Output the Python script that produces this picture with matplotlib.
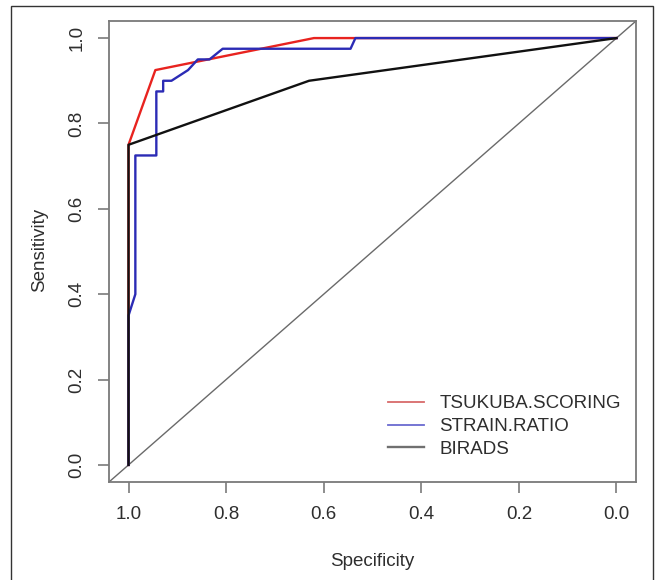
import numpy as np
import matplotlib
matplotlib.use("Agg")
import matplotlib.pyplot as plt
from matplotlib.lines import Line2D
from matplotlib.patches import Rectangle

# =========================
# DATA
# =========================
TSUKUBA_SPEC = [1.0, 1.0, 0.945, 0.62, 0.0]
TSUKUBA_SENS = [0.0, 0.75, 0.925, 1.0, 1.0]

STRAIN_SPEC = [1.0, 1.0, 0.986, 0.986, 0.943, 0.943, 0.929, 0.929, 0.912,
               0.878, 0.858, 0.834, 0.807, 0.545, 0.535, 0.0]
STRAIN_SENS = [0.0, 0.35, 0.40, 0.725, 0.725, 0.875, 0.875, 0.90, 0.90,
               0.925, 0.95, 0.95, 0.975, 0.975, 1.0, 1.0]

BIRADS_SPEC = [1.0, 1.0, 0.63, 0.0]
BIRADS_SENS = [0.0, 0.75, 0.90, 1.0]

LEGEND_LABELS = ["TSUKUBA.SCORING", "STRAIN.RATIO", "BIRADS"]
TICKS = [0.0, 0.2, 0.4, 0.6, 0.8, 1.0]

# =========================
# STYLE
# =========================
FONT = "Liberation Sans"
TEXT_COLOR = "#2e2e2e"
FRAME_COLOR = "#7a7a7a"
CURVE_LW = 1.7
FONT_SIZE = 13.5

plt.rcParams["font.family"] = [FONT, "DejaVu Sans"]

fig = plt.figure(figsize=(6.57, 5.80), dpi=100)
ax = fig.add_axes([109 / 657, 1 - 482 / 580, (636 - 109) / 657, (482 - 21) / 580])

# outer border of the image
fig.patches.append(Rectangle((11 / 657, -0.01), (653 - 11) / 657, 1 - 6 / 580 + 0.01,
                             transform=fig.transFigure, fill=False,
                             edgecolor="#333333", linewidth=1.0))

# chance line
ax.axline((1.0, 0.0), (0.0, 1.0), color="#6a6a6a", linewidth=1.0, zorder=1)

ax.plot(TSUKUBA_SPEC, TSUKUBA_SENS, color="#e8231f", linewidth=CURVE_LW, zorder=2)
ax.plot(STRAIN_SPEC, STRAIN_SENS, color="#2b2bb5", linewidth=CURVE_LW, zorder=3)
ax.plot(BIRADS_SPEC, BIRADS_SENS, color="#111111", linewidth=CURVE_LW, zorder=4)

ax.set_xlim(1.04, -0.04)
ax.set_ylim(-0.04, 1.04)
ax.set_xticks(TICKS)
ax.set_yticks(TICKS)
ax.set_xticklabels([f"{t:.1f}" for t in TICKS])
ax.set_yticklabels([f"{t:.1f}" for t in TICKS], rotation=90, va="center")

ax.tick_params(axis="both", length=8, width=1.2, color=FRAME_COLOR,
               labelsize=FONT_SIZE, labelcolor=TEXT_COLOR, pad=9)
for spine in ax.spines.values():
    spine.set_color(FRAME_COLOR)
    spine.set_linewidth(1.3)

fig.text(372 / 657, 1 - 561 / 580, "Specificity", ha="center", va="center",
         fontsize=FONT_SIZE, color=TEXT_COLOR)
fig.text(40 / 657, 1 - 250 / 580, "Sensitivity", ha="center", va="center",
         rotation=90, fontsize=FONT_SIZE, color=TEXT_COLOR)

handles = [
    Line2D([], [], color="#d86a6a", linewidth=1.3),
    Line2D([], [], color="#6a6ad0", linewidth=1.3),
    Line2D([], [], color="#707070", linewidth=1.7),
]
leg = ax.legend(handles, LEGEND_LABELS, loc="center left",
                bbox_to_anchor=(0.515, 0.12), frameon=False,
                fontsize=FONT_SIZE, handlelength=1.9, handletextpad=0.85,
                labelspacing=0.3, borderaxespad=0)
for t in leg.get_texts():
    t.set_color(TEXT_COLOR)

fig.savefig("out.png", dpi=100)
